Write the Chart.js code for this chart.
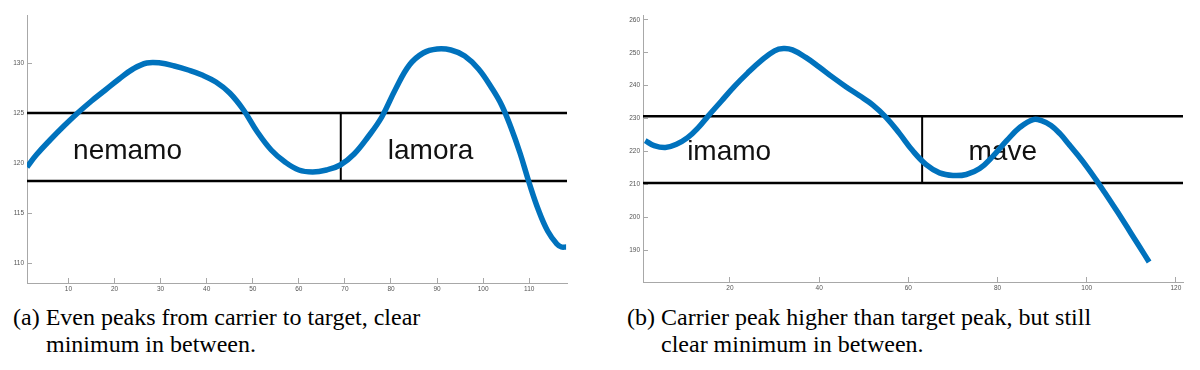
<!DOCTYPE html>
<html>
<head>
<meta charset="utf-8">
<script src="https://cdn.jsdelivr.net/npm/chart.js@4.4.1/dist/chart.umd.min.js"></script>
<style>
  html, body { margin: 0; padding: 0; background: #fff; }
  #wrap { position: relative; width: 1200px; height: 370px; overflow: hidden; background: #fff; }
  .cv { position: absolute; top: 0; }
  .cap { position: absolute; font-family: "Liberation Serif", "Times New Roman", serif; font-size: 24px; line-height: 27px; color: #000; white-space: nowrap; }
  .cap .l2 { display: block; }
</style>
</head>
<body>
<div id="wrap">
  <div class="cv" style="left:0px;width:600px;height:300px;"><canvas id="c1" width="600" height="300"></canvas></div>
  <div class="cv" style="left:600px;width:600px;height:300px;"><canvas id="c2" width="600" height="300"></canvas></div>
  <div class="cap" style="left:13px;top:304px;">(a) Even peaks from carrier to target, clear<span class="l2" style="margin-left:33px;">minimum in between.</span></div>
  <div class="cap" style="left:627px;top:304px;">(b) Carrier peak higher than target peak, but still<span class="l2" style="margin-left:34px;">clear minimum in between.</span></div>
</div>
<script>
// ---- Data: chart (a) ----
const leftX = [1, 3, 6, 9, 12, 15, 18, 21, 24, 27, 30, 33, 36, 39, 42, 45, 48, 51, 54, 57, 60, 63, 66, 69, 72, 75, 78, 81, 84, 87, 90, 93, 96, 99, 102, 104, 106, 108, 110, 112, 114, 116, 117, 118];
const leftY = [119.6, 120.8, 122.3, 123.7, 125.0, 126.2, 127.3, 128.4, 129.4, 130.0, 130.0, 129.7, 129.3, 128.8, 128.1, 127.0, 125.3, 123.1, 121.3, 120.1, 119.3, 119.1, 119.3, 119.8, 120.9, 122.6, 124.6, 127.4, 129.8, 131.0, 131.4, 131.3, 130.7, 129.4, 127.4, 125.8, 123.6, 121.0, 118.0, 115.3, 113.2, 111.9, 111.6, 111.6];
const leftBand = [118.2, 125];        // horizontal lines
const leftSplit = 69.1;               // vertical divider
const leftXRange = [1, 118.2];
const leftYRange = [108, 134.8];
const leftXTicks = [10, 20, 30, 40, 50, 60, 70, 80, 90, 100, 110];
const leftYTicks = [110, 115, 120, 125, 130];
const leftLabels = ["nemamo", "lamora"];
const leftLabelX = [11.0, 79.3];
const leftLabelY = [120.37, 120.37];

// ---- Data: chart (b) ----
const rightX = [1, 3, 5.5, 8, 10.5, 13, 15, 18, 21, 24, 27, 30, 32, 34, 37, 40, 43, 46, 49, 52, 55, 58, 61, 64, 67, 70, 73, 76, 79, 82, 85, 88, 90, 92, 94, 96, 98, 100, 102, 104, 106, 108, 110, 112, 114];
const rightY = [223.3, 221.8, 221.2, 222.2, 224.2, 227.4, 230.6, 235.2, 239.8, 243.9, 247.6, 250.6, 251.3, 250.9, 248.6, 245.7, 242.6, 239.7, 237.0, 234.2, 230.4, 225.5, 220.2, 216.0, 213.5, 212.7, 213.0, 214.8, 218.6, 223.2, 227.3, 229.7, 229.3, 227.9, 225.4, 222.2, 218.9, 215.4, 211.6, 207.6, 203.5, 199.3, 195.0, 190.7, 186.4];
const rightBand = [210.4, 230.7];
const rightSplit = 63.1;
const rightXRange = [0.5, 121.6];
const rightYRange = [180.3, 261.5];
const rightXTicks = [20, 40, 60, 80, 100, 120];
const rightYTicks = [190, 200, 210, 220, 230, 240, 250, 260];
const rightLabels = ["imamo", "mave"];
const rightLabelX = [10.4, 73.5];
const rightLabelY = [217.3, 217.3];

const BLUE = '#0072BD';
const AXIS = '#a8a8a8';

const textPlugin = {
  id: 'regionText',
  beforeDatasetsDraw(chart, args, opts) {
    const ctx = chart.ctx;
    const xs = chart.scales.x, ys = chart.scales.y;
    ctx.save();
    ctx.font = '28px "Liberation Sans", Arial, sans-serif';
    ctx.fillStyle = '#111';
    ctx.textAlign = 'left';
    ctx.textBaseline = 'alphabetic';
    opts.labels.forEach((t, i) => {
      ctx.fillText(t, xs.getPixelForValue(opts.xs[i]), ys.getPixelForValue(opts.ys[i]));
    });
    ctx.restore();
  }
};

function makeChart(id, cfg) {
  const curve = cfg.x.map((v, i) => ({x: v, y: cfg.y[i]}));
  const datasets = [
    { data: curve, borderColor: BLUE, borderWidth: 5.5, pointRadius: 0, tension: 0.4, borderCapStyle: 'butt', borderJoinStyle: 'round' },
    { data: [{x: cfg.xr[0], y: cfg.band[1]}, {x: cfg.xr[1], y: cfg.band[1]}], borderColor: '#000', borderWidth: 2.5, pointRadius: 0 },
    { data: [{x: cfg.xr[0], y: cfg.band[0]}, {x: cfg.xr[1], y: cfg.band[0]}], borderColor: '#000', borderWidth: 2.5, pointRadius: 0 },
    { data: [{x: cfg.split, y: cfg.band[0]}, {x: cfg.split, y: cfg.band[1]}], borderColor: '#000', borderWidth: 2, pointRadius: 0 }
  ];
  const tickFont = { family: '"Liberation Sans", Arial, sans-serif', size: 6.5 };
  return new Chart(document.getElementById(id), {
    type: 'line',
    data: { datasets },
    plugins: [textPlugin],
    options: {
      responsive: false,
      animation: false,
      events: [],
      layout: { padding: { top: 15, right: cfg.padRight, left: 0, bottom: 0 } },
      plugins: {
        legend: { display: false },
        tooltip: { enabled: false },
        regionText: { labels: cfg.labels, xs: cfg.lx, ys: cfg.ly }
      },
      scales: {
        x: {
          type: 'linear', min: cfg.xr[0], max: cfg.xr[1],
          afterFit(s) { s.height = cfg.xAxisH; },
          afterBuildTicks(s) { s.ticks = cfg.xt.map(v => ({value: v})); },
          grid: { drawOnChartArea: false, drawTicks: true, tickLength: -5, color: AXIS, lineWidth: 1 },
          border: { display: true, color: AXIS, width: 1 },
          ticks: { font: tickFont, color: '#555', padding: 7, maxRotation: 0, autoSkip: false }
        },
        y: {
          type: 'linear', min: cfg.yr[0], max: cfg.yr[1],
          afterFit(s) { s.width = cfg.yAxisW; },
          afterBuildTicks(s) { s.ticks = cfg.yt.map(v => ({value: v})); },
          grid: { drawOnChartArea: false, drawTicks: true, tickLength: -5, color: AXIS, lineWidth: 1 },
          border: { display: true, color: AXIS, width: 1 },
          ticks: { font: tickFont, color: '#555', padding: 8, autoSkip: false }
        }
      }
    }
  });
}

makeChart('c1', { x: leftX, y: leftY, band: leftBand, split: leftSplit, xr: leftXRange, yr: leftYRange,
  xt: leftXTicks, yt: leftYTicks, labels: leftLabels, lx: leftLabelX, ly: leftLabelY,
  padRight: 33, xAxisH: 17, yAxisW: 27 });
makeChart('c2', { x: rightX, y: rightY, band: rightBand, split: rightSplit, xr: rightXRange, yr: rightYRange,
  xt: rightXTicks, yt: rightYTicks, labels: rightLabels, lx: rightLabelX, ly: rightLabelY,
  padRight: 17, xAxisH: 18, yAxisW: 43 });
</script>
</body>
</html>
